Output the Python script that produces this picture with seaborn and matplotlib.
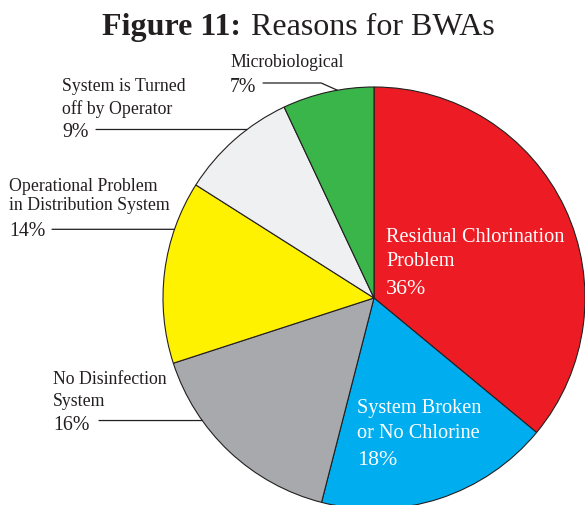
import numpy as np
import matplotlib
matplotlib.use("Agg")
import matplotlib.pyplot as plt
import seaborn as sns

# data
reasons = [
    "Residual Chlorination\nProblem",
    "System Broken\nor No Chlorine",
    "No Disinfection\nSystem",
    "Operational Problem\nin Distribution System",
    "System is Turned\noff by Operator",
    "Microbiological",
]
shares = [36, 18, 16, 14, 9, 7]
colors = ["#ED1C24", "#00AEEF", "#A7A9AC", "#FFF200", "#EFF0F2", "#39B54A"]

W, H = 585, 506
INK = "#231F20"


def Y(y):
    # image pixel row -> axes y
    return H - y


def put_lines(ax, x, baselines, text, **kw):
    for yb, line in zip(baselines, text.split("\n")):
        ax.text(x, Y(yb), line, ha="left", va="baseline", **kw)


sns.set_theme(style="white")
plt.rcParams["font.family"] = ["Liberation Serif", "DejaVu Serif"]

fig = plt.figure(figsize=(W / 100, H / 100), dpi=100)
ax = fig.add_axes([0, 0, 1, 1])

cx, cy, r = 374, Y(299), 211
wedges, _ = ax.pie(shares, colors=colors, startangle=90, counterclock=False,
                   center=(cx, cy), radius=r,
                   wedgeprops=dict(edgecolor=INK, linewidth=0.8))
ax.set_xlim(0, W)
ax.set_ylim(0, H)
ax.set_aspect("equal")
ax.axis("off")

# title
ax.text(241, Y(35), "Figure 11:", fontsize=23, fontweight="bold",
        ha="right", va="baseline", color=INK)
ax.text(251, Y(35), "Reasons for BWAs", fontsize=23, ha="left", va="baseline",
        color=INK)

# inside labels (white): x, name baselines, pct baseline
inside = {0: (386, (242, 266), 294), 1: (357, (413, 438), 465)}
for i, (x, bls, yp) in inside.items():
    put_lines(ax, x, bls, reasons[i], fontsize=14.6, color="white")
    ax.text(x, Y(yp), f"{shares[i]}%", fontsize=15.8, color="white",
            ha="left", va="baseline")

# outside labels: text x, name baselines, pct baseline, line start x, edge angle
outside = {
    5: (230, (67,), 92, 263, 100),
    4: (62, (91, 113.5), 137, 96, 127),
    3: (9, (191, 210.5), 236, 52, 161),
    2: (53, (384, 405.5), 430, 99, 215.5),
}
for i, (x, bls, yp, lx, ang) in outside.items():
    put_lines(ax, x, bls, reasons[i], fontsize=12.8, color=INK)
    ax.text(x, Y(yp), f"{shares[i]}%", fontsize=14.3, color=INK,
            ha="left", va="baseline")
    ex = cx + r * np.cos(np.radians(ang))
    ey = cy + r * np.sin(np.radians(ang))
    if i == 5:
        ly = Y(84)
        conn = "angle,angleA=0,angleB=-24,rad=0"
    else:
        ly = ey
        conn = "arc3"
    ax.annotate("", xy=(ex, ey), xytext=(lx, ly),
                arrowprops=dict(arrowstyle="-", color=INK, lw=0.9,
                                shrinkA=0, shrinkB=0, connectionstyle=conn))

fig.savefig("out.png", dpi=100)
